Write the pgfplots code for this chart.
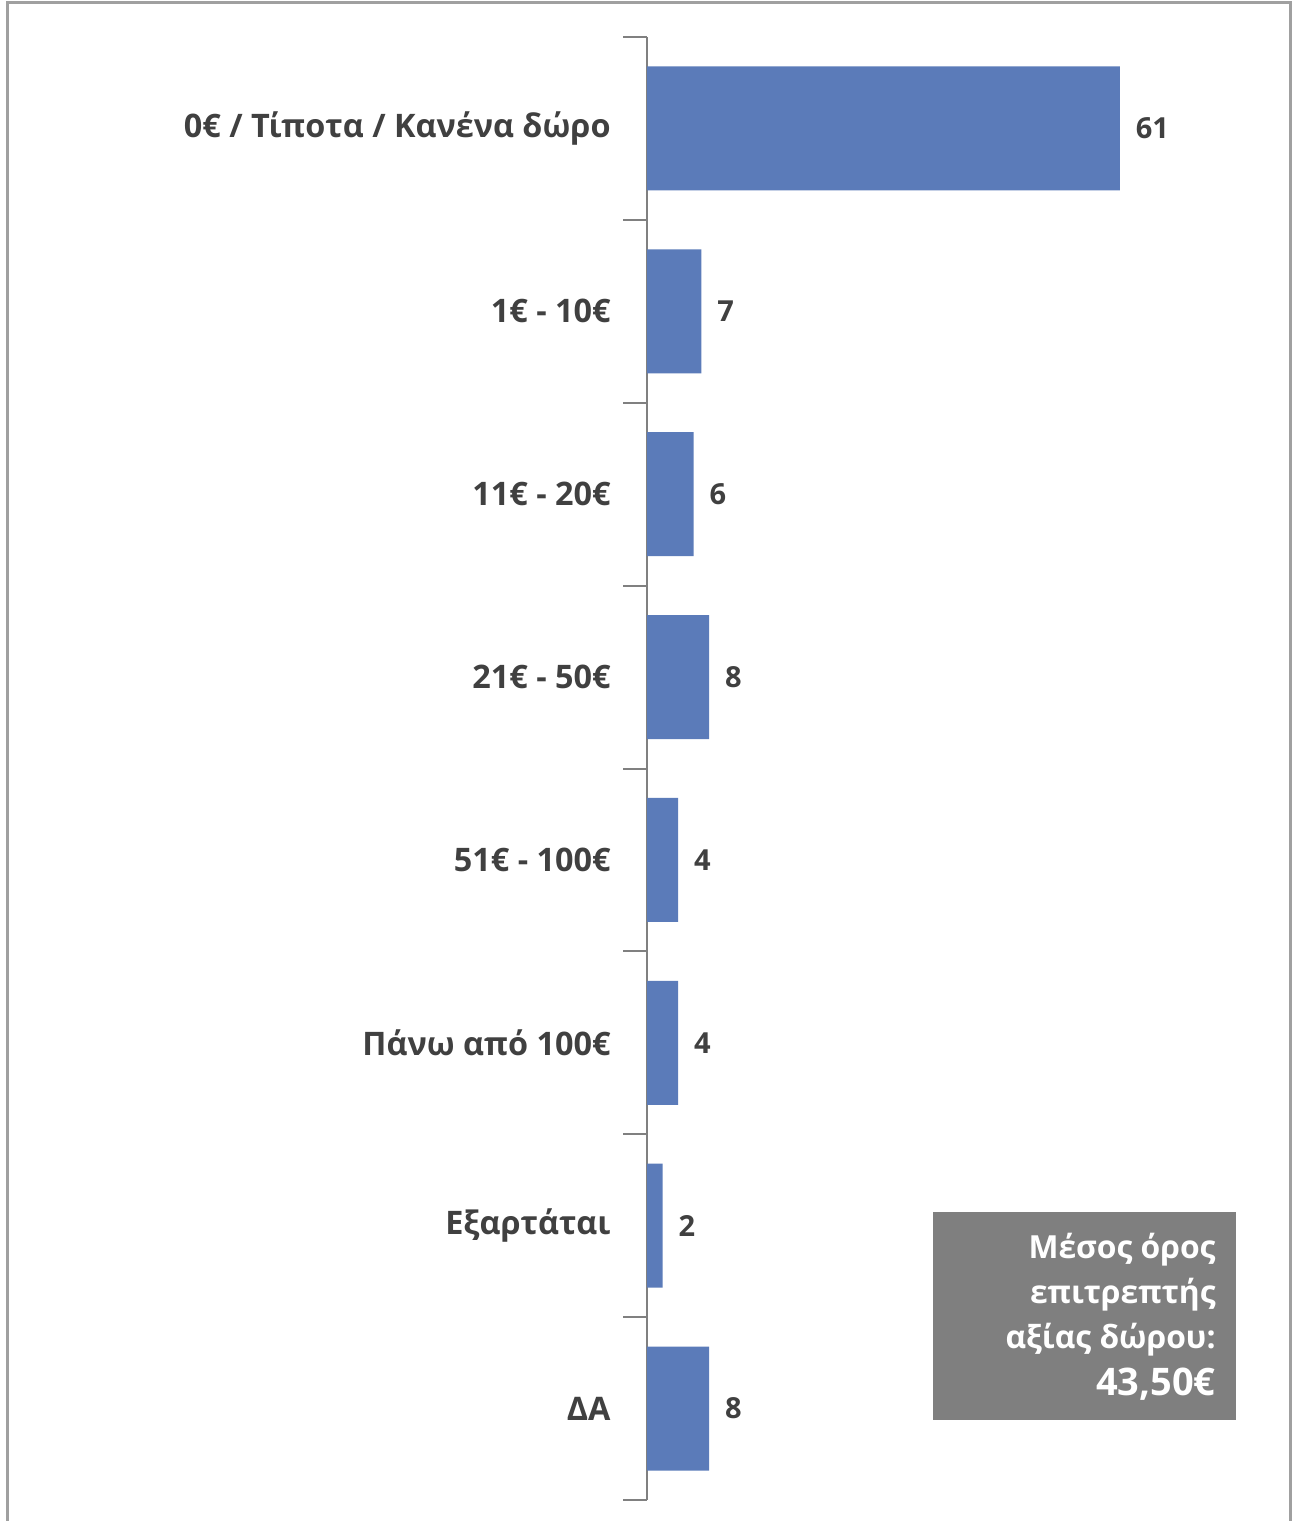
\documentclass[border=0pt]{standalone}
\usepackage{fontspec}
\setmainfont{Open Sans}
\usepackage{pgfplots}
\pgfplotsset{compat=1.18}
\definecolor{barblue}{RGB}{91,123,185}
\definecolor{txt}{RGB}{64,64,64}
\definecolor{axgray}{RGB}{128,128,128}
\definecolor{boxgray}{RGB}{127,127,127}
\definecolor{framegray}{RGB}{160,160,160}
\begin{document}
\begin{tikzpicture}[x=1pt,y=1pt]
\useasboundingbox (0,0) rectangle (645.5,-760.5);
% outer frame
\draw[framegray, line width=1.5pt] (3.5,-800) -- (3.5,-1.2) -- (645,-1.2) -- (645,-800);
\begin{axis}[
  at={(323.5pt,-750pt)}, anchor=south west,
  scale only axis, width=310pt, height=731.5pt,
  xmin=0, xmax=80,
  ymin=0.5, ymax=8.5, y dir=reverse,
  xbar, bar width=62pt,
  axis x line=none,
  axis y line*=left,
  y axis line style={axgray, line width=1pt},
  ytick={1,...,8},
  yticklabels={0€ / Τίποτα / Κανένα δώρο, 1€ - 10€, 11€ - 20€, 21€ - 50€, 51€ - 100€, Πάνω από 100€, Εξαρτάται, ΔΑ},
  major tick length=0pt,
  extra y ticks={0.5,1.5,2.5,3.5,4.5,5.5,6.5,7.5,8.5},
  extra y tick labels={},
  extra y tick style={major tick length=12pt, tick style={axgray, line width=1pt}, tick align=outside},
  yticklabel style={font=\fontsize{16.2}{20}\selectfont\bfseries, text=txt, anchor=east, inner sep=0pt, xshift=-18pt},
  nodes near coords,
  nodes near coords style={font=\fontsize{14.5}{18}\selectfont\bfseries, text=txt, anchor=west, xshift=4.5pt},
  point meta=explicit symbolic,
  clip=false,
]
\addplot[fill=barblue, draw=none] coordinates {
  (61,1) [61]
  (7,2) [7]
  (6,3) [6]
  (8,4) [8]
  (4,5) [4]
  (4,6) [4]
  (2,7) [2]
  (8,8) [8]
};
\end{axis}
% summary box
\fill[boxgray] (466.5,-606) rectangle (618,-710);
\node[anchor=north east, align=right, text=white, inner sep=0pt, font=\fontsize{15.9}{22.5}\selectfont\bfseries] at (608,-616.5)
  {Μέσος όρος\\ επιτρεπτής\\ αξίας δώρου:\\[1pt] {\fontsize{19}{22.5}\selectfont 43,50€}};
\end{tikzpicture}
\end{document}
